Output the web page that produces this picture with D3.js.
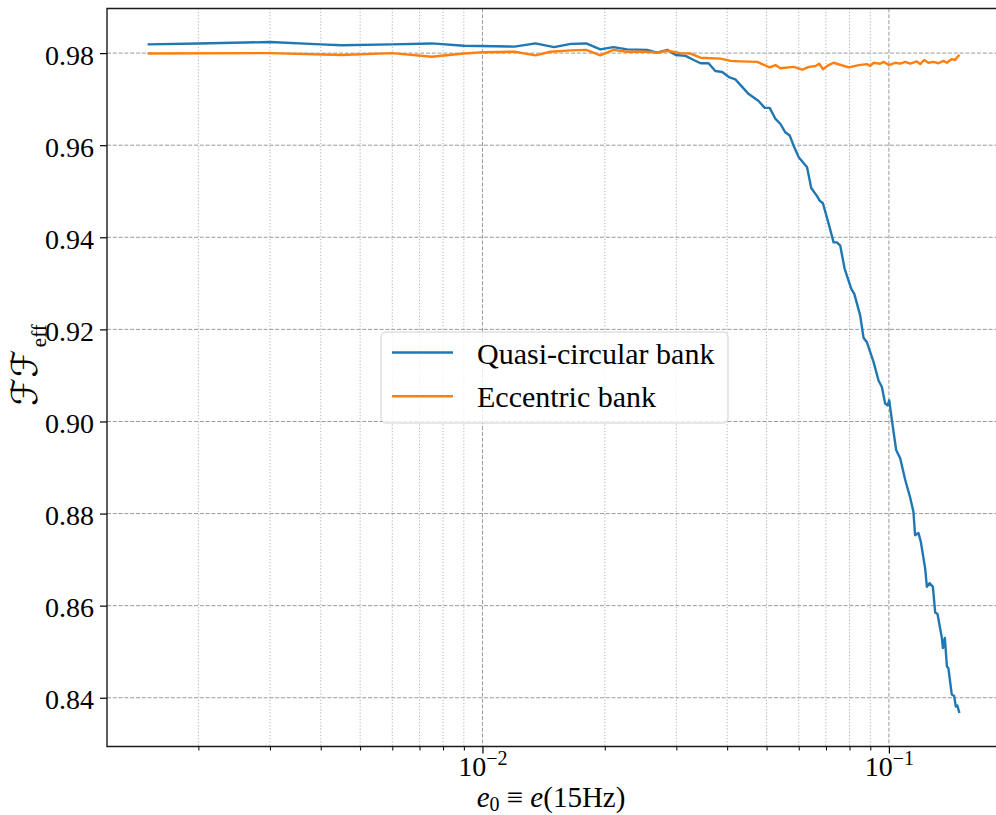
<!DOCTYPE html>
<html>
<head>
<meta charset="utf-8">
<script src="https://cdn.jsdelivr.net/npm/d3@7"></script>
<style>
  body { margin: 0; background: #fff; }
  svg { display: block; }
  text { font-family: "Liberation Serif", "Times New Roman", serif; fill: #000; }
</style>
</head>
<body>
<svg id="chart"></svg>
<script>
// Effective fitting factor vs initial eccentricity, two template banks.
let vWidth = 996;
let vHeight = 815;

// Quasi-circular bank
let qcE0 = [0.0015, 0.002, 0.003, 0.004, 0.0045, 0.006, 0.0075, 0.009, 0.012, 0.0135,
  0.015, 0.0165, 0.018, 0.0195, 0.021, 0.0227, 0.0254, 0.0269, 0.0285, 0.0299,
  0.0316, 0.0331, 0.0344, 0.036, 0.0374, 0.0389, 0.0404, 0.0419, 0.0452, 0.0478,
  0.0495, 0.0509, 0.0526, 0.0541, 0.0556, 0.057, 0.0583, 0.06, 0.0629, 0.0644,
  0.0665, 0.0675, 0.0688, 0.0711, 0.0731, 0.0745, 0.0759, 0.0778, 0.0808, 0.0822,
  0.085, 0.0866, 0.0883, 0.0917, 0.0943, 0.0961, 0.0979, 0.0992, 0.1002, 0.1017,
  0.1042, 0.1066, 0.1097, 0.1128, 0.1149, 0.116, 0.1182, 0.1198, 0.1228, 0.124,
  0.1259, 0.1283, 0.13, 0.1317, 0.135, 0.1358, 0.1373, 0.1389, 0.1401, 0.1428,
  0.1447, 0.1461, 0.1474, 0.1491];
let qcFF = [0.9819, 0.9821, 0.9824, 0.9819, 0.9817, 0.9819, 0.9821, 0.9816, 0.9814, 0.9821,
  0.9813, 0.9820, 0.9821, 0.9808, 0.9813, 0.9808, 0.9807, 0.9801, 0.9807, 0.9796,
  0.9794, 0.9785, 0.9778, 0.9778, 0.9761, 0.9759, 0.9748, 0.9743, 0.9711, 0.9696,
  0.9681, 0.9681, 0.9657, 0.9646, 0.9628, 0.9621, 0.9599, 0.9574, 0.9552, 0.9507,
  0.9490, 0.9480, 0.9474, 0.9429, 0.9389, 0.9389, 0.9382, 0.9332, 0.9288, 0.9277,
  0.9230, 0.9182, 0.9172, 0.9129, 0.9089, 0.9075, 0.9039, 0.9035, 0.9046, 0.9003,
  0.8938, 0.8920, 0.8873, 0.8835, 0.8804, 0.8753, 0.8758, 0.8739, 0.8681, 0.8641,
  0.8649, 0.8641, 0.8585, 0.8582, 0.8530, 0.8508, 0.8530, 0.8468, 0.8464, 0.8407,
  0.8404, 0.8381, 0.8383, 0.8367];

// Eccentric bank
let eccE0 = [0.0015, 0.003, 0.0045, 0.006, 0.0075, 0.009, 0.0101, 0.012, 0.0135, 0.0147,
  0.0165, 0.018, 0.0195, 0.021, 0.0227, 0.0254, 0.0269, 0.0285, 0.0307, 0.0325,
  0.0344, 0.0385, 0.0408, 0.0431, 0.0474, 0.0509, 0.0526, 0.0541, 0.0583, 0.0612,
  0.0636, 0.066, 0.0674, 0.0688, 0.0711, 0.0731, 0.0797, 0.0843, 0.0883, 0.0899,
  0.0917, 0.0952, 0.097, 0.0999, 0.1036, 0.1066, 0.1097, 0.1128, 0.1172, 0.1194,
  0.1221, 0.1251, 0.1287, 0.1324, 0.1362, 0.1389, 0.1428, 0.1455, 0.1469, 0.1491];
let eccFF = [0.9799, 0.9800, 0.9796, 0.9800, 0.9792, 0.9799, 0.9802, 0.9803, 0.9795, 0.9803,
  0.9806, 0.9807, 0.9795, 0.9807, 0.9803, 0.9803, 0.9801, 0.9805, 0.9800, 0.9799,
  0.9790, 0.9788, 0.9783, 0.9782, 0.9781, 0.9769, 0.9774, 0.9767, 0.9770, 0.9764,
  0.9770, 0.9772, 0.9777, 0.9765, 0.9774, 0.9779, 0.9769, 0.9774, 0.9776, 0.9772,
  0.9779, 0.9777, 0.9781, 0.9774, 0.9779, 0.9777, 0.9781, 0.9777, 0.9782, 0.9776,
  0.9785, 0.9779, 0.9781, 0.9778, 0.9783, 0.9779, 0.9787, 0.9785, 0.9790, 0.9796];

let seriesNames = ["Quasi-circular bank", "Eccentric bank"];
let seriesColors = ["#1f77b4", "#ff7f0e"];

let yTicks = [0.84, 0.86, 0.88, 0.90, 0.92, 0.94, 0.96, 0.98];
let xMajor = [0.01, 0.1];
let xMajorExp = ["\u22122", "\u22121"];

// axes box (right edge runs past the page)
let pLeft = 107, pRight = 1000, pTop = 8.5, pBottom = 746.5;

let svg = d3.select('#chart')
  .attr('width', vWidth)
  .attr('height', vHeight);

// 5% margins, log space for x
let allE0 = qcE0.concat(eccE0);
let allFF = qcFF.concat(eccFF);
let lx = d3.extent(allE0).map(Math.log10);
let padX = (lx[1] - lx[0]) * 0.05;
let ly = d3.extent(allFF);
let padY = (ly[1] - ly[0]) * 0.05;

let x = d3.scaleLog()
  .domain([Math.pow(10, lx[0] - padX), Math.pow(10, lx[1] + padX)])
  .range([pLeft, pRight]);
let y = d3.scaleLinear()
  .domain([ly[0] - padY, ly[1] + padY])
  .range([pBottom, pTop]);

// minor decade positions inside the domain
let xMinor = [];
[-3, -2, -1].forEach((k) => {
  for (let m = 2; m <= 9; m++) {
    let v = m * Math.pow(10, k);
    if (v > x.domain()[0] && v < x.domain()[1]) xMinor.push(v);
  }
});

// grid
let grid = svg.append('g');
grid.selectAll('line.xminor')
  .data(xMinor)
  .enter()
  .append('line')
  .attr('x1', (d) => x(d)).attr('x2', (d) => x(d))
  .attr('y1', pTop).attr('y2', pBottom)
  .style('stroke', '#b0b0b0')
  .style('stroke-width', 1)
  .style('stroke-dasharray', '1.2,2');
grid.selectAll('line.xmajor')
  .data(xMajor)
  .enter()
  .append('line')
  .attr('x1', (d) => x(d)).attr('x2', (d) => x(d))
  .attr('y1', pTop).attr('y2', pBottom)
  .style('stroke', '#9a9a9a')
  .style('stroke-width', 1)
  .style('stroke-dasharray', '4,1.8');
grid.selectAll('line.ymajor')
  .data(yTicks)
  .enter()
  .append('line')
  .attr('x1', pLeft).attr('x2', pRight)
  .attr('y1', (d) => y(d)).attr('y2', (d) => y(d))
  .style('stroke', '#9a9a9a')
  .style('stroke-width', 1)
  .style('stroke-dasharray', '4,1.8');

// curves
svg.append('clipPath')
  .attr('id', 'plot-clip')
  .append('rect')
  .attr('x', pLeft).attr('y', pTop)
  .attr('width', pRight - pLeft).attr('height', pBottom - pTop);

let vLine = d3.line()
  .x((d) => x(d[0]))
  .y((d) => y(d[1]));

let series = [d3.zip(qcE0, qcFF), d3.zip(eccE0, eccFF)];

svg.append('g')
  .attr('clip-path', 'url(#plot-clip)')
  .selectAll('path')
  .data(series)
  .enter()
  .append('path')
  .attr('d', vLine)
  .style('fill', 'none')
  .style('stroke', (d, i) => seriesColors[i])
  .style('stroke-width', 2.4)
  .style('stroke-linejoin', 'round');

// y axis
let yAxis = svg.append('g')
  .attr('transform', `translate(${pLeft},0)`)
  .call(d3.axisLeft(y).tickValues(yTicks).tickSize(7).tickPadding(6).tickFormat(d3.format('.2f')));
yAxis.select('.domain').remove();
yAxis.selectAll('line').style('stroke', '#000').style('stroke-width', 1.2);
yAxis.selectAll('text')
  .attr('dy', '0.4em')
  .style('font-size', '28px')
  .style('font-family', '"Liberation Serif", serif');

// x axis: minor ticks, then major ticks with 10^k labels
let xMinorAxis = svg.append('g')
  .attr('transform', `translate(0,${pBottom})`)
  .call(d3.axisBottom(x).tickValues(xMinor).tickSize(4).tickFormat(''));
xMinorAxis.select('.domain').remove();
xMinorAxis.selectAll('line').style('stroke', '#000').style('stroke-width', 1);

let xAxis = svg.append('g')
  .attr('transform', `translate(0,${pBottom})`)
  .call(d3.axisBottom(x).tickValues(xMajor).tickSize(7).tickFormat(''));
xAxis.select('.domain').remove();
xAxis.selectAll('line').style('stroke', '#000').style('stroke-width', 1.2);
xAxis.selectAll('.tick text').remove();
xAxis.selectAll('.tick')
  .append('text')
  .attr('y', 29.5)
  .attr('text-anchor', 'middle')
  .style('font-size', '28px')
  .each(function (d, i) {
    let t = d3.select(this);
    t.append('tspan').text('10');
    t.append('tspan')
      .attr('dy', -11)
      .style('font-size', '20px')
      .text(xMajorExp[i]);
  });

// spines (left, bottom, top)
svg.append('path')
  .attr('d', `M${pRight},${pTop}H${pLeft}V${pBottom}H${pRight}`)
  .style('fill', 'none')
  .style('stroke', '#1a1a1a')
  .style('stroke-width', 1.4);

// axis labels
let xLabel = svg.append('text')
  .attr('x', 551)
  .attr('y', 807)
  .attr('text-anchor', 'middle')
  .style('font-size', '29px');
xLabel.append('tspan').style('font-style', 'italic').text('e');
xLabel.append('tspan').attr('dy', 4).style('font-size', '20px').text('0');
xLabel.append('tspan').attr('dy', -4).text(' \u2261 ');
xLabel.append('tspan').style('font-style', 'italic').text('e');
xLabel.append('tspan').text('(15Hz)');

let yLabel = svg.append('text')
  .attr('transform', 'translate(37,365) rotate(-90)')
  .attr('text-anchor', 'middle')
  .style('font-size', '36px');
yLabel.append('tspan')
  .style('font-family', '"DejaVu Serif", "DejaVu Sans", serif')
  .style('font-style', 'italic')
  .text('\u2131\u2131');
yLabel.append('tspan')
  .attr('dx', 2)
  .attr('dy', 9)
  .style('font-size', '21px')
  .text('eff');

// legend
let legend = svg.append('g');
legend.append('rect')
  .attr('x', 381).attr('y', 332)
  .attr('width', 347).attr('height', 91)
  .attr('rx', 5)
  .style('fill', '#fff')
  .style('fill-opacity', 0.8)
  .style('stroke', '#d0d0d0')
  .style('stroke-width', 1);

let rows = legend.selectAll('g.row')
  .data(seriesNames)
  .enter()
  .append('g')
  .attr('transform', (d, i) => `translate(0,${352.5 + i * 43.7})`);
rows.append('line')
  .attr('x1', 392).attr('x2', 453)
  .style('stroke', (d, i) => seriesColors[i])
  .style('stroke-width', 2.4);
rows.append('text')
  .attr('x', 477)
  .attr('y', 11)
  .style('font-size', '30px')
  .text((d) => d);
</script>
</body>
</html>
